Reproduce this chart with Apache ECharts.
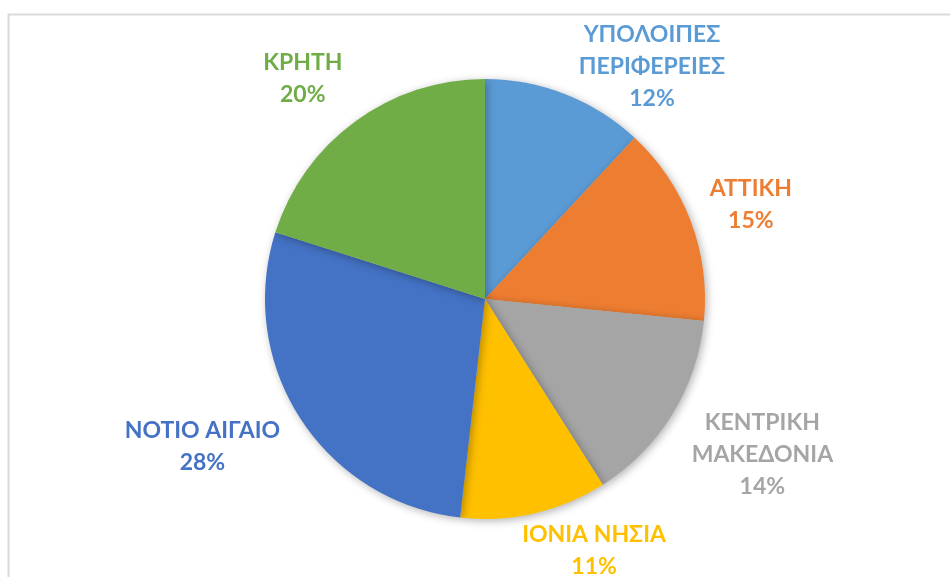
<!DOCTYPE html>
<html>
<head>
<meta charset="utf-8">
<script src="https://cdn.jsdelivr.net/npm/echarts@6/dist/echarts.min.js"></script>
<style>
    html, body { margin: 0; padding: 0; background: #fff; }
    #chart { width: 950px; height: 577px; }
</style>
</head>
<body>
<div id="chart"></div>
<script>
const regions = ['ΥΠΟΛΟΙΠΕΣ\nΠΕΡΙΦΕΡΕΙΕΣ', 'ΑΤΤΙΚΗ', 'ΚΕΝΤΡΙΚΗ\nΜΑΚΕΔΟΝΙΑ', 'ΙΟΝΙΑ ΝΗΣΙΑ', 'ΝΟΤΙΟ ΑΙΓΑΙΟ', 'ΚΡΗΤΗ'];
const shares = [11.9, 14.7, 14.4, 10.8, 28.1, 20.1];
const colors = ['#5B9BD5', '#ED7D31', '#A5A5A5', '#FFC000', '#4472C4', '#70AD47'];

// label placement: angle nudge (deg) from slice middle, distance of label centre from pie centre
const labelNudge = [14.3, 1.2, -2.4, -10.5, 5.3, -3.4];
const labelDist = [286, 282, 318, 274, 319, 286];

const cx = 485, cy = 299, R = 220;

const total = shares.reduce((a, b) => a + b, 0);
const midAngles = [];
let acc = 0;
shares.forEach(v => {
    midAngles.push((acc + v / 2) / total * 360);
    acc += v;
});

const chart = echarts.init(document.getElementById('chart'));

const option = {
    animation: false,
    graphic: [{
        type: 'rect',
        shape: { x: 8.5, y: 14.5, width: 1200, height: 1000 },
        style: { fill: 'none', stroke: '#D9D9D9', lineWidth: 2 },
        silent: true
    }],
    series: [{
        type: 'pie',
        center: [cx, cy],
        radius: R,
        startAngle: 90,
        clockwise: true,
        avoidLabelOverlap: false,
        emphasis: { disabled: true },
        itemStyle: {
            shadowBlur: 8,
            shadowColor: 'rgba(0,0,0,0.3)',
            shadowOffsetX: 2,
            shadowOffsetY: 2
        },
        label: {
            show: true,
            position: 'outside',
            fontFamily: 'Lato',
            fontWeight: 'bold',
            fontSize: 23,
            lineHeight: 32,
            formatter: p => p.name + '\n' + Math.round(p.percent) + '%'
        },
        labelLine: { show: false },
        labelLayout: p => {
            const a = (midAngles[p.dataIndex] + labelNudge[p.dataIndex]) * Math.PI / 180;
            const d = labelDist[p.dataIndex];
            return {
                x: cx + d * Math.sin(a),
                y: cy - d * Math.cos(a),
                align: 'center',
                verticalAlign: 'middle'
            };
        },
        data: regions.map((name, i) => ({
            name: name,
            value: shares[i],
            itemStyle: { color: colors[i] },
            label: { color: colors[i] }
        }))
    }]
};

chart.setOption(option);
</script>
</body>
</html>
